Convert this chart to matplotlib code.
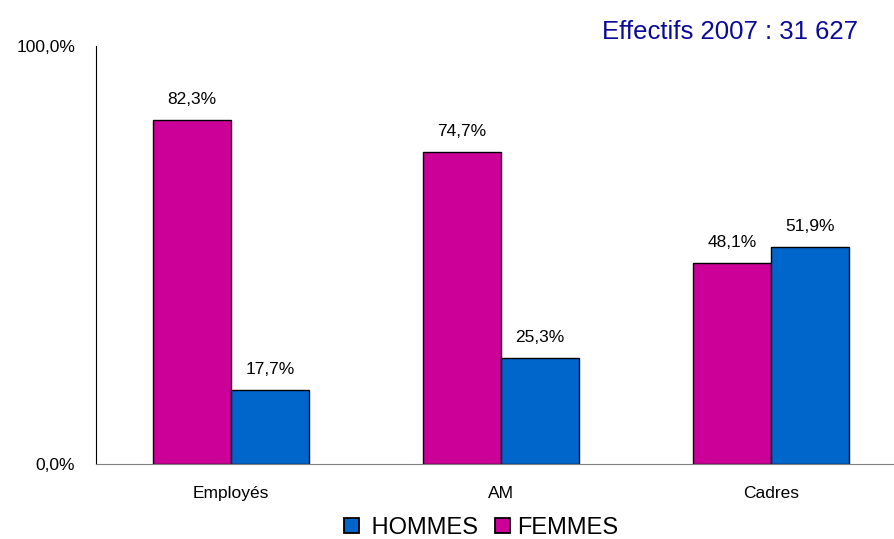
import matplotlib
matplotlib.use("Agg")
import matplotlib.pyplot as plt
from matplotlib.patches import Patch

plt.rcParams['font.family'] = ['Liberation Sans', 'DejaVu Sans']

categories = ["Employés", "AM", "Cadres"]
femmes = [82.3, 74.7, 48.1]
hommes = [17.7, 25.3, 51.9]
series_names = [" HOMMES", "FEMMES"]
title = "Effectifs 2007 : 31 627"

c_f = "#CC0099"
c_h = "#0066CC"

fig = plt.figure(figsize=(8.94, 5.39), dpi=100)
ax = fig.add_axes([96/894, 75/539, 810/894, 418/539])
x = list(range(len(categories)))
w = 0.288
bf = ax.bar([i - w/2 for i in x], femmes, w, color=c_f, edgecolor="black", linewidth=1)
bh = ax.bar([i + w/2 for i in x], hommes, w, color=c_h, edgecolor="black", linewidth=1)

for bars, vals in ((bf, femmes), (bh, hommes)):
    for b, v in zip(bars, vals):
        ax.annotate(f"{v:.1f}%".replace(".", ","), (b.get_x() + b.get_width()/2, v),
                    xytext=(0, 9.5), textcoords="offset points", ha="center", va="bottom",
                    fontsize=12.5)

ax.set_xlim(-0.5, 2.5)
ax.set_ylim(0, 100)
ax.set_yticks([0, 100])
ax.set_yticklabels(["0,0%", "100,0%"], fontsize=12.5)
ax.set_xticks(x)
ax.set_xticklabels(categories, fontsize=12.5)
ax.tick_params(axis="both", length=0)
ax.tick_params(axis="y", pad=15)
ax.tick_params(axis="x", pad=16)
for s in ("top", "right"):
    ax.spines[s].set_visible(False)
ax.spines["left"].set_color("black")
ax.spines["bottom"].set_color("#808080")

fig.text(858/894, 1 - 32/539, title, color="#0A0A99", fontsize=18.5, ha="right", va="center")

handles = [Patch(facecolor=c_h, edgecolor="black", linewidth=1.3, label=series_names[0]),
           Patch(facecolor=c_f, edgecolor="black", linewidth=1.3, label=series_names[1])]
fig.legend(handles=handles, loc="center", bbox_to_anchor=(481/894, 1 - 528/539), ncol=2,
           frameon=False, fontsize=17, handlelength=0.62, handleheight=0.62,
           handletextpad=0.28, columnspacing=0.72, borderpad=0.2)

fig.savefig("out.png", dpi=100)
